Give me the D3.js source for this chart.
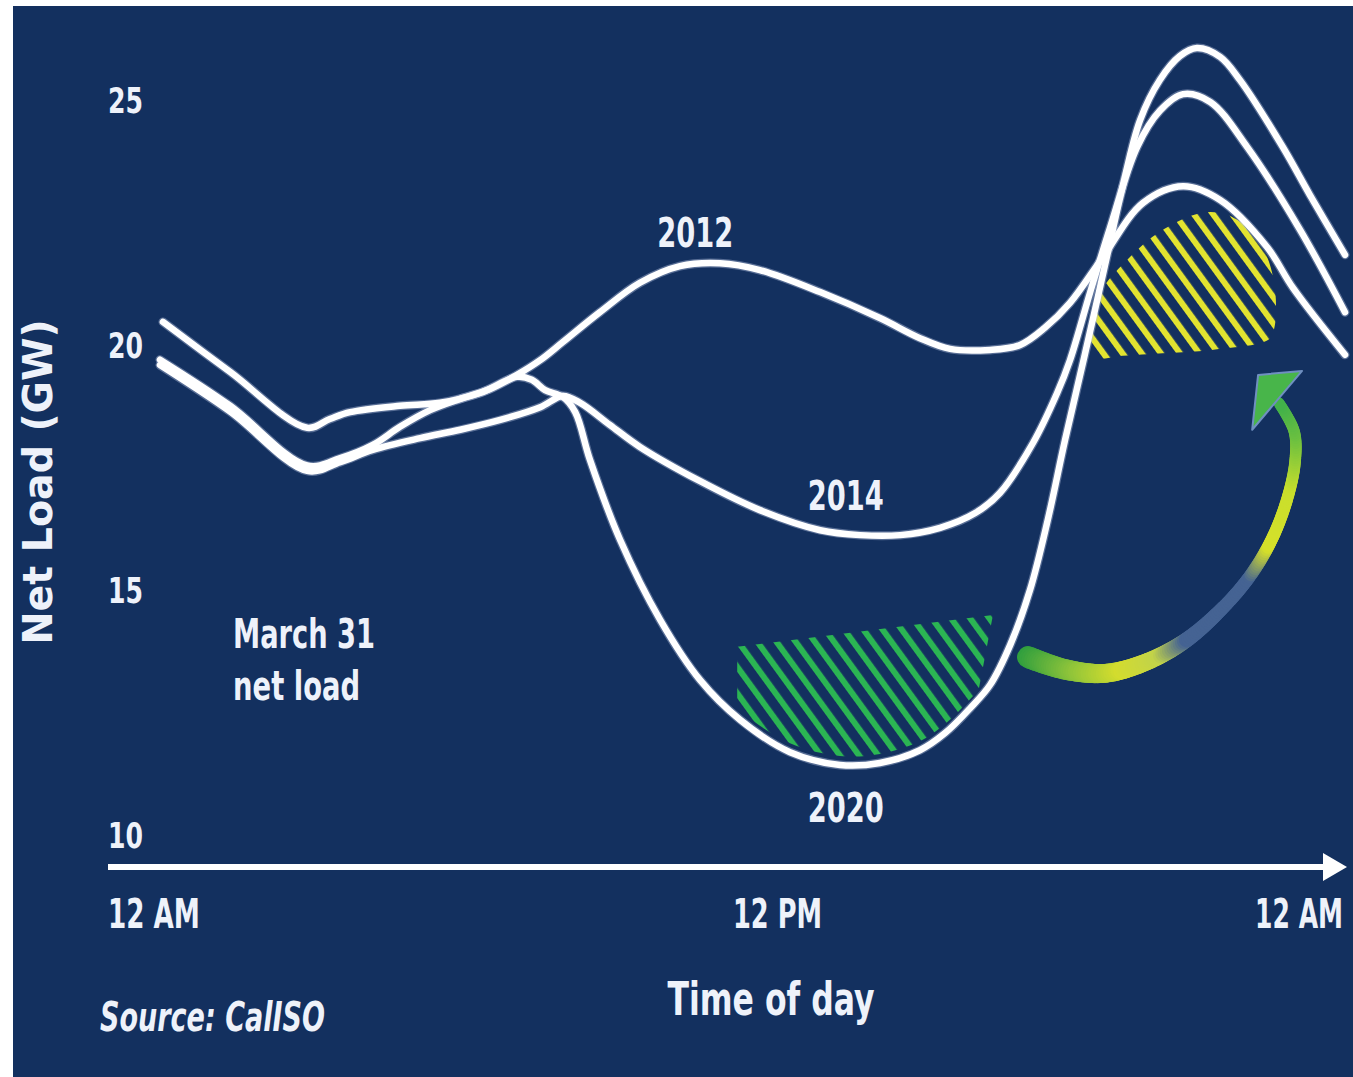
<!DOCTYPE html>
<html><head><meta charset="utf-8">
<script src="https://cdn.jsdelivr.net/npm/d3@7"></script>
<style>html,body{margin:0;padding:0;background:#fff;} svg{display:block}</style>
</head><body>
<svg id="chart" width="1353" height="1077"></svg>
<script>
// ---------------- data (hour of day, net load GW) ----------------
const hours2012 = [0,1.42,2.98,3.65,4.31,4.86,5.47,6.08,6.68,7.23,7.70,8.16,8.91,9.72,10.53,11.34,12.15,13.37,14.58,15.39,16.0,16.81,17.42,17.92,18.43,19.10,19.91,20.72,21.47,22.42,22.95,24.0];
const load2012  = [19.70,18.76,17.54,17.69,17.96,18.33,18.67,18.90,19.10,19.39,19.69,20.06,20.67,21.27,21.61,21.67,21.53,21.08,20.55,20.14,19.92,19.90,20.0,20.35,20.86,21.80,22.90,23.24,22.96,22.0,21.16,19.80];

const hours2014 = [0,1.42,2.98,3.65,4.31,5.27,6.08,6.89,7.70,8.16,8.51,9.11,9.72,10.94,12.15,13.37,14.18,14.99,15.80,16.51,17.01,17.68,18.17,18.43,18.84,19.24,19.79,20.25,20.72,21.27,22.02,23.09,24.0];
const load2014  = [19.59,18.64,17.43,17.61,17.86,18.10,18.27,18.47,18.73,18.96,18.82,18.37,17.92,17.22,16.63,16.22,16.12,16.12,16.27,16.57,16.98,18.0,19.02,19.69,21.08,22.39,24.04,24.78,25.12,24.96,24.04,22.35,20.67];

const hours2020 = [0.06,1.42,2.98,3.44,3.85,4.86,5.67,6.48,7.23,7.53,7.80,8.16,8.41,8.71,9.32,10.13,10.94,11.75,12.76,13.77,14.58,15.39,15.90,16.41,16.81,17.22,17.62,17.98,18.33,18.73,19.14,19.48,19.85,20.25,20.66,21.0,21.47,21.87,22.74,23.29,24.0];
const load2020  = [20.47,19.45,18.31,18.49,18.63,18.76,18.82,19.02,19.35,19.29,19.08,18.94,18.63,17.65,16.02,14.39,13.16,12.35,11.69,11.43,11.47,11.73,12.08,12.59,13.06,13.88,15.0,16.43,18.06,19.80,21.63,23.16,24.59,25.41,25.90,26.06,25.88,25.41,24.04,23.06,21.84];

const seriesNames = ["2012","2014","2020"];
const labelHours  = [10.84,13.89,13.89];
const labelLoads  = [22.0,16.63,10.27];

const yTicks = [10,15,20,25];
const xTickHours  = [0,12,24];
const xTickLabels = ["12 AM","12 PM","12 AM"];

// hatched regions (hour, GW)
const greenHatchHours = [11.69,16.87,16.55,16.55,11.69];
const greenHatchLoads = [13.84,14.49,12.80,10.0,10.0];
const yellowHatchHours = [18.90,18.92,19.08,19.54,20.25,21.06,21.57,22.04,22.34,22.52,22.60,22.56,22.44,21.30,20.30,19.50];
const yellowHatchLoads = [19.76,20.51,21.12,21.69,22.31,22.69,22.67,22.39,21.98,21.49,20.92,20.31,20.10,19.90,19.83,19.78];

// curved shift arrow (hour, GW)
const arrowHours = [17.58,18.33,19.14,19.95,20.76,21.51,22.08,22.52,22.83,22.99,22.97,22.66];
const arrowLoads = [13.63,13.38,13.30,13.52,13.96,14.62,15.29,16.04,16.86,17.63,18.24,18.82];
const arrowHeadHours = [22.24,23.13,22.12];
const arrowHeadLoads = [19.39,19.47,18.27];

// ---------------- drawing ----------------
const W = 1353, H = 1077;
const FONT = "'DejaVu Sans Condensed','DejaVu Sans',sans-serif";
const TXT = "#eef2fa";
const svg = d3.select("#chart");
const x = d3.scaleLinear().domain([0,24]).range([160,1345]);
const y = d3.scaleLinear().domain([10,25]).range([835,100]);

svg.append("rect").attr("x",13).attr("y",6).attr("width",W-13).attr("height",H-6).attr("fill","#13305f");

const defs = svg.append("defs");
function stripes(id, color){
  const p = defs.append("pattern").attr("id",id).attr("patternUnits","userSpaceOnUse")
    .attr("width",15.5).attr("height",40).attr("patternTransform","rotate(-36)");
  p.append("rect").attr("x",0).attr("y",0).attr("width",6).attr("height",40).attr("fill",color);
}
stripes("greenStripes","#2bb553");
stripes("yellowStripes","#e2e330");

const zip = (hs, ls) => hs.map((h,i)=>[h, ls[i]]);
const curve = d3.curveCatmullRom.alpha(0.5);
const lineGen = d3.line().x(d=>x(d[0])).y(d=>y(d[1])).curve(curve);

const data = [zip(hours2012,load2012), zip(hours2014,load2014), zip(hours2020,load2020)];

// clip: region above the 2020 curve
defs.append("clipPath").attr("id","above2020").append("path")
  .attr("d", d3.area().x(d=>x(d[0])).y0(0).y1(d=>y(d[1])).curve(curve)(data[2]))
  .attr("transform","translate(0,-9)");

svg.append("path")
  .attr("d", d3.line().x(d=>x(d[0])).y(d=>y(d[1])).curve(d3.curveLinearClosed)(zip(greenHatchHours,greenHatchLoads)))
  .attr("fill","url(#greenStripes)").attr("clip-path","url(#above2020)");

svg.append("path")
  .attr("d", d3.line().x(d=>x(d[0])).y(d=>y(d[1])).curve(d3.curveCatmullRomClosed.alpha(0.5))(zip(yellowHatchHours,yellowHatchLoads)))
  .attr("fill","url(#yellowStripes)");

// arrow
const arrowPath = svg.append("path").attr("d", lineGen(zip(arrowHours,arrowLoads))).attr("fill","none");
const node = arrowPath.node(); const L = node.getTotalLength();
const cT = [0,0.12,0.22,0.31,0.38,0.58,0.66,0.80,0.92,1];
const cC = ["#2f9e3e","#8fc43a","#d3dc2e","#c2d34a","#456393","#456393","#d6e02a","#c9df2c","#6cc040","#40b04a"];
const colorAt = d3.scaleLinear().domain(cT).range(cC).interpolate(d3.interpolateRgb);
const widthAt = d3.scaleLinear().domain([0,0.5,1]).range([22,13,11]);
const N = 180;
const arrowG = svg.append("g");
for (let i=0;i<N;i++){
  const t0=i/N, t1=(i+1)/N;
  const p0=node.getPointAtLength(t0*L), p1=node.getPointAtLength(t1*L);
  arrowG.append("line").attr("x1",p0.x).attr("y1",p0.y).attr("x2",p1.x).attr("y2",p1.y)
    .attr("stroke",colorAt((t0+t1)/2)).attr("stroke-width",widthAt((t0+t1)/2)).attr("stroke-linecap","round");
}
svg.append("path")
  .attr("d", d3.line().x(d=>x(d[0])).y(d=>y(d[1])).curve(d3.curveLinearClosed)(zip(arrowHeadHours,arrowHeadLoads)))
  .attr("fill","#48b54a").attr("stroke","#6f8fc0").attr("stroke-width",2).attr("stroke-linejoin","round");

// series lines
const lines = svg.append("g");
data.forEach(s=>{
  lines.append("path").attr("d",lineGen(s)).attr("fill","none")
    .attr("stroke","rgba(170,185,215,0.45)").attr("stroke-width",9).attr("stroke-linecap","round");
});
data.forEach(s=>{
  lines.append("path").attr("d",lineGen(s)).attr("fill","none")
    .attr("stroke","#ffffff").attr("stroke-width",6.5).attr("stroke-linecap","round").attr("stroke-linejoin","round");
});

// x axis arrow
const axisY = y(10) + 32;
svg.append("line").attr("x1",x(0)-52).attr("x2",x(24)-18).attr("y1",axisY).attr("y2",axisY)
  .attr("stroke","#ffffff").attr("stroke-width",6);
svg.append("path").attr("d",`M${x(24)-22},${axisY-14}L${x(24)+2},${axisY}L${x(24)-22},${axisY+14}Z`).attr("fill","#ffffff");

// condensed text: measure natural width, then scale horizontally to the wanted width
function label(txt, px, py, size, len, opts={}){
  const g = svg.append("g");
  if (opts.rotate) g.attr("transform", `rotate(${opts.rotate},${px},${py})`);
  const t = g.append("text").attr("x",0).attr("y",0).text(txt)
    .attr("font-family",FONT).attr("font-size",size).attr("fill",TXT)
    .attr("font-weight", opts.weight || "bold")
    .attr("text-anchor",opts.anchor||"start");
  if (opts.style) t.attr("font-style",opts.style);
  const w = t.node().getComputedTextLength();
  const sx = w > 0 ? len / w : 1;
  t.attr("transform", `translate(${px},${py}) scale(${sx},1)`);
  return t;
}

// y tick labels
yTicks.forEach(v=> label(String(v), 108, y(v)+13, 35, 35));

// x tick labels
const xAnch = ["start","middle","end"];
const xOff = [-52, 25, -2];
const xLen = [92, 89, 88];
xTickHours.forEach((h,i)=> label(xTickLabels[i], x(h)+xOff[i], axisY+61, 41, xLen[i], {anchor:xAnch[i]}));

// series labels
seriesNames.forEach((n,i)=> label(n, x(labelHours[i]), y(labelLoads[i]), 40, 76, {anchor:"middle"}));

// annotation
label("March 31", x(1.48), y(13.82), 41, 142);
label("net load", x(1.48), y(12.76), 41, 127);

// axis titles
label("Net Load (GW)", 52, 482, 41, 325, {anchor:"middle", rotate:-90});
label("Time of day", 771, 1015, 47, 207, {anchor:"middle"});
label("Source: CalISO", 100, 1031, 40, 225, {style:"italic"});
</script>
</body></html>
